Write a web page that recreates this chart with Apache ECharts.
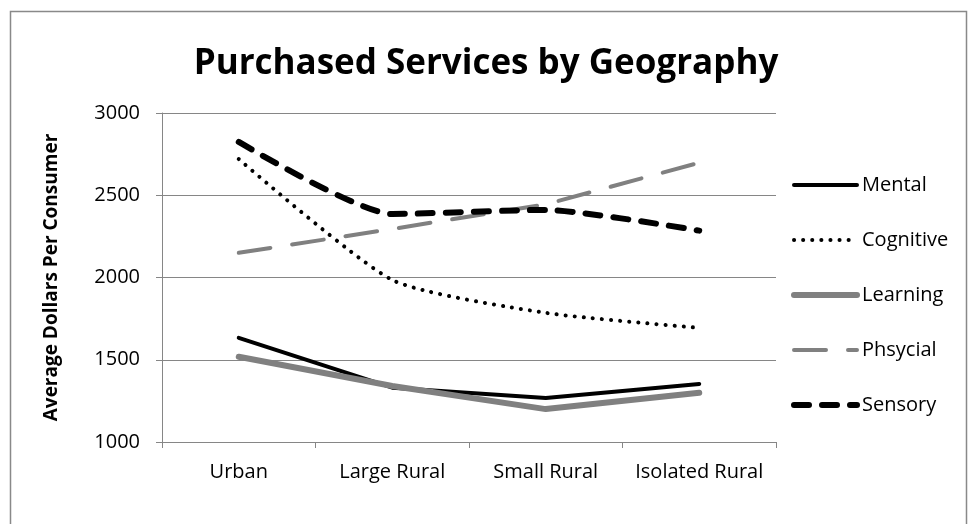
<!DOCTYPE html>
<html>
<head>
<meta charset="utf-8">
<script src="https://cdn.jsdelivr.net/npm/echarts@6/dist/echarts.min.js"></script>
<style>html,body{margin:0;padding:0;background:#fff;}#c{width:972px;height:524px;}</style>
</head>
<body>
<div id="c"></div>
<script>
const categories = ['Urban', 'Large Rural', 'Small Rural', 'Isolated Rural'];
const mental = [1633, 1330, 1268, 1353];
const cognitive = [2720, 1985, 1785, 1694];
const learning = [1518, 1340, 1200, 1299];
const phsycial = [2150, 2295, 2445, 2698];
const sensory = [2824, 2386, 2411, 2285];
const yTicks = [1000, 1500, 2000, 2500, 3000];

const FONT = '"Open Sans", "Noto Sans", sans-serif';
const GRID = '#868686';

const chart = echarts.init(document.getElementById('c'), null, {renderer: 'canvas'});

const seriesDefs = [
  {name: 'Mental', data: mental, color: '#000000', width: 4, type: 'solid', smooth: false},
  {name: 'Cognitive', data: cognitive, color: '#000000', width: 4, type: [0.1, 9], smooth: 0.2},
  {name: 'Learning', data: learning, color: '#808080', width: 6, type: 'solid', smooth: false},
  {name: 'Phsycial', data: phsycial, color: '#808080', width: 4, type: [32, 22], smooth: false},
  {name: 'Sensory', data: sensory, color: '#000000', width: 6, type: [15, 13], smooth: 0.2}
];

chart.setOption({
  animation: false,
  backgroundColor: '#ffffff',
  title: {
    text: 'Purchased Services by Geography',
    left: 'center',
    top: 42,
    textStyle: {fontFamily: FONT, fontWeight: 'bold', fontSize: 35, color: '#000'}
  },
  graphic: [{
    type: 'rect',
    shape: {x: 10.5, y: 11.5, width: 956, height: 530},
    style: {fill: 'none', stroke: '#898989', lineWidth: 1.5},
    silent: true,
    z: -1
  }],
  grid: {left: 162, right: 196, top: 113, bottom: 82, containLabel: false},
  legend: {
    orient: 'vertical',
    left: 786,
    top: 170,
    itemWidth: 63,
    itemHeight: 20,
    itemGap: 35,
    textStyle: {fontFamily: FONT, fontSize: 20, color: '#000'},
    itemStyle: {color: 'rgba(0,0,0,0)', borderWidth: 0, opacity: 0},
    lineStyle: {width: 'inherit'},
    data: seriesDefs.map(s => ({
      name: s.name,
      itemStyle: {color: 'rgba(0,0,0,0)', borderWidth: 0, opacity: 0},
      lineStyle: {width: s.width, color: s.color, type: s.type, cap: 'round', opacity: 1}
    }))
  },
  xAxis: {
    type: 'category',
    data: categories,
    boundaryGap: true,
    axisLine: {lineStyle: {color: GRID, width: 1}},
    axisTick: {show: true, length: 6, lineStyle: {color: GRID}},
    axisLabel: {fontFamily: FONT, fontSize: 20, color: '#000', margin: 20, interval: 0},
    splitLine: {show: false}
  },
  yAxis: {
    type: 'value',
    min: 1000,
    max: 3000,
    interval: 500,
    name: 'Average Dollars Per Consumer',
    nameLocation: 'middle',
    nameRotate: 90,
    nameGap: 101,
    nameTextStyle: {fontFamily: FONT, fontWeight: 'bold', fontSize: 19, color: '#000'},
    axisLine: {show: true, lineStyle: {color: GRID, width: 1}},
    axisTick: {show: true, length: 6, lineStyle: {color: GRID}},
    axisLabel: {fontFamily: FONT, fontSize: 20, color: '#000', margin: 22,
      formatter: v => yTicks.indexOf(v) >= 0 ? String(v) : ''},
    splitLine: {show: true, lineStyle: {color: GRID, width: 1}}
  },
  series: seriesDefs.map(s => ({
    name: s.name,
    type: 'line',
    data: s.data,
    smooth: s.smooth,
    symbol: 'none',
    showSymbol: false,
    color: s.color,
    lineStyle: {width: s.width, color: s.color, type: s.type, cap: 'round', join: 'round'},
    emphasis: {disabled: true}
  }))
});
</script>
</body>
</html>
